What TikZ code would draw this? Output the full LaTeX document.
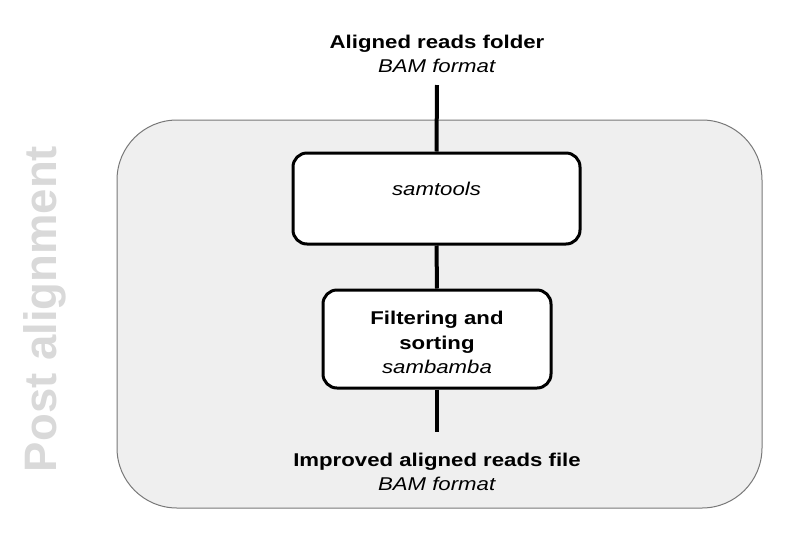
\documentclass[tikz,border=0pt]{standalone}
\usepackage{fontspec}
\setmainfont{Liberation Sans}[FakeStretch=1.2]
\newfontfamily\sidefont{Liberation Sans}
\definecolor{panelfill}{RGB}{239,239,239}
\definecolor{panelline}{RGB}{120,120,120}
\definecolor{sidegray}{RGB}{217,217,217}
\newcommand{\lift}[1]{\rule{0pt}{#1}}
\begin{document}
\begin{tikzpicture}[x=1pt,y=-1pt,
  stepbox/.style={draw=black, line width=3pt, fill=white, rounded corners=14pt,
    align=center, inner sep=0pt, font=\fontsize{18.5}{24.5}\selectfont},
  conn/.style={line width=4pt, black},
  iotext/.style={align=center, font=\fontsize{18.5}{24.5}\selectfont}]
\useasboundingbox (0,0) rectangle (804,550);
% panel
\draw[fill=panelfill, draw=panelline, line width=1pt, rounded corners=60pt]
  (117,120) rectangle (762,508);
\node[rotate=90, text=sidegray, font=\sidefont\fontsize{45.5}{50}\selectfont\bfseries] (side) at (45,309) {Post alignment};
% texts
\node[iotext] (in) at (437,54) {\textbf{Aligned reads folder}\\\textit{BAM format}};
\node[iotext] (out) at (437,472) {\textbf{Improved aligned reads file}\\\textit{BAM format}};
% boxes
\node[stepbox, minimum width=287pt, minimum height=91pt] (sam) at (436.5,198.5) {\lift{19pt}\textit{samtools}\\\mbox{}};
\node[stepbox, minimum width=228pt, minimum height=98pt] (filt) at (437,339) {\lift{21pt}\textbf{Filtering and}\\\textbf{sorting}\\\textit{sambamba}};
% connectors
\coordinate (tin) at (437,85);
\coordinate (tout) at (437,432);
\draw[conn] (tin) -- (sam.north);
\draw[conn] (sam.south) -- (filt.north);
\draw[conn] (filt.south) -- (tout);
\end{tikzpicture}
\end{document}
